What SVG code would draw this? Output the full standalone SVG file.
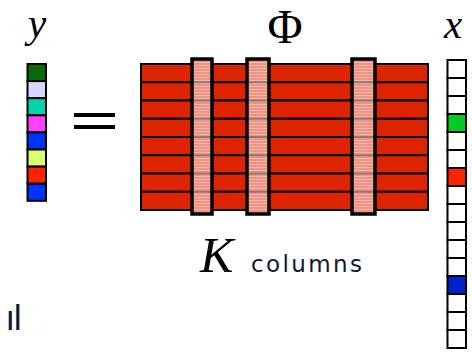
<svg xmlns="http://www.w3.org/2000/svg" width="472" height="352" viewBox="0 0 472 352">
<style>
.cell{stroke:#000;stroke-width:2}
.row{fill:#dc2400;stroke:#000;stroke-width:2}
.hl{fill:url(#stripes)}
.hlb{fill:none;stroke:#000;stroke-width:3.5}
.grid{stroke:#8a7a78;stroke-width:2}
.math{font-family:"Liberation Serif","Times New Roman",serif;font-style:italic;fill:#000}
.sym{font-family:"Liberation Serif","Times New Roman",serif;fill:#000}
.sans{font-family:"DejaVu Sans","Verdana",sans-serif;fill:#101830}
</style>
<defs>
<pattern id="stripes" width="4" height="3" patternUnits="userSpaceOnUse">
<rect width="4" height="3" fill="#ee9484"/>
<rect y="2" width="4" height="1" fill="#f6b4a8"/>
</pattern>
</defs>
<rect width="472" height="352" fill="#fff"/>

<g id="label-y"><text class="math" x="28" y="37" font-size="41">y</text></g>
<g id="label-phi"><text class="sym" x="285" y="43" font-size="48" text-anchor="middle">Φ</text></g>
<g id="label-x"><text class="math" x="444" y="38" font-size="41">x</text></g>

<g id="vector-y">
<rect class="cell" x="27.5" y="64" width="18.5" height="17.1" fill="#0a6a0a"/>
<rect class="cell" x="27.5" y="81.1" width="18.5" height="17.1" fill="#d4d6fa"/>
<rect class="cell" x="27.5" y="98.2" width="18.5" height="17.1" fill="#00d4aa"/>
<rect class="cell" x="27.5" y="115.3" width="18.5" height="17.1" fill="#ff40ff"/>
<rect class="cell" x="27.5" y="132.4" width="18.5" height="17.1" fill="#0033ff"/>
<rect class="cell" x="27.5" y="149.5" width="18.5" height="17.1" fill="#d8ff70"/>
<rect class="cell" x="27.5" y="166.6" width="18.5" height="17.1" fill="#ff2200"/>
<rect class="cell" x="27.5" y="183.7" width="18.5" height="17.1" fill="#0033ff"/>
</g>

<g id="equals">
<rect x="74" y="113" width="41" height="4" fill="#000"/>
<rect x="74" y="125" width="41" height="4" fill="#000"/>
</g>

<g id="matrix-phi">
<rect class="row" x="141" y="64" width="287" height="18.25"/>
<rect class="row" x="141" y="82.25" width="287" height="18.25"/>
<rect class="row" x="141" y="100.5" width="287" height="18.25"/>
<rect class="row" x="141" y="118.75" width="287" height="18.25"/>
<rect class="row" x="141" y="137" width="287" height="18.25"/>
<rect class="row" x="141" y="155.25" width="287" height="18.25"/>
<rect class="row" x="141" y="173.5" width="287" height="18.25"/>
<rect class="row" x="141" y="191.75" width="287" height="18.25"/>
</g>

<g id="selected-columns">
<rect class="hl" x="192" y="59" width="20" height="155"/>
<rect class="hl" x="247" y="59" width="22" height="155"/>
<rect class="hl" x="352" y="59" width="23" height="155"/>
<g class="grid">
<path d="M192 82.25h20M192 100.5h20M192 118.75h20M192 137h20M192 155.25h20M192 173.5h20M192 191.75h20"/>
<path d="M247 82.25h22M247 100.5h22M247 118.75h22M247 137h22M247 155.25h22M247 173.5h22M247 191.75h22"/>
<path d="M352 82.25h23M352 100.5h23M352 118.75h23M352 137h23M352 155.25h23M352 173.5h23M352 191.75h23"/>
</g>
<rect class="hlb" x="192" y="59" width="20" height="155"/>
<rect class="hlb" x="247" y="59" width="22" height="155"/>
<rect class="hlb" x="352" y="59" width="23" height="155"/>
</g>

<g id="vector-x">
<rect class="cell" x="447.5" y="60" width="18.5" height="18" fill="#fff"/>
<rect class="cell" x="447.5" y="78" width="18.5" height="18" fill="#fff"/>
<rect class="cell" x="447.5" y="96" width="18.5" height="18" fill="#fff"/>
<rect class="cell" x="447.5" y="114" width="18.5" height="18" fill="#00cc22"/>
<rect class="cell" x="447.5" y="132" width="18.5" height="18" fill="#fff"/>
<rect class="cell" x="447.5" y="150" width="18.5" height="18" fill="#fff"/>
<rect class="cell" x="447.5" y="168" width="18.5" height="18" fill="#ff2200"/>
<rect class="cell" x="447.5" y="186" width="18.5" height="18" fill="#fff"/>
<rect class="cell" x="447.5" y="204" width="18.5" height="18" fill="#fff"/>
<rect class="cell" x="447.5" y="222" width="18.5" height="18" fill="#fff"/>
<rect class="cell" x="447.5" y="240" width="18.5" height="18" fill="#fff"/>
<rect class="cell" x="447.5" y="258" width="18.5" height="18" fill="#fff"/>
<rect class="cell" x="447.5" y="276" width="18.5" height="18" fill="#0022cc"/>
<rect class="cell" x="447.5" y="294" width="18.5" height="18" fill="#fff"/>
<rect class="cell" x="447.5" y="312" width="18.5" height="18" fill="#fff"/>
<rect class="cell" x="447.5" y="330" width="18.5" height="18" fill="#fff"/>
</g>

<g id="label-k">
<text class="math" x="200" y="272" font-size="50">K</text>
<text class="sans" x="251" y="272" font-size="23" textLength="111" lengthAdjust="spacing">columns</text>
</g>

<g id="fragment"><text class="sans" x="5.5" y="330" font-size="34" fill="#123070" letter-spacing="-2">ıl</text></g>
</svg>
